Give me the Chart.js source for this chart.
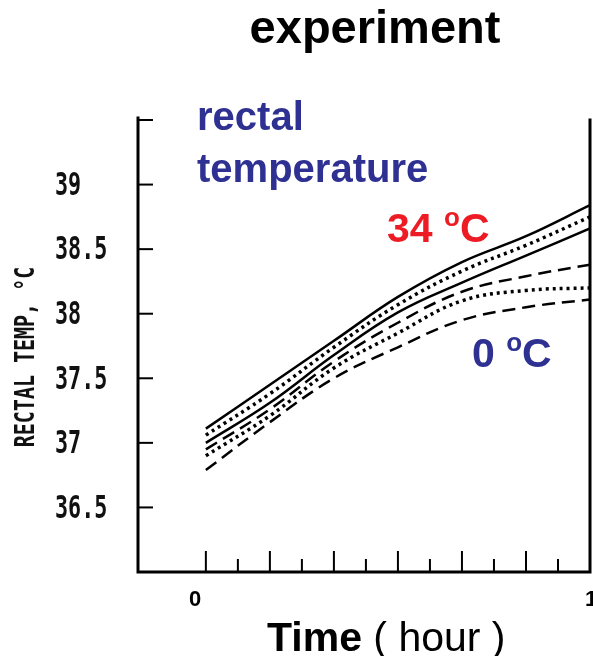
<!DOCTYPE html>
<html lang="en">
<head>
  <meta charset="UTF-8" />
  <title>Rectal temperature experiment</title>
  <script src="https://cdn.jsdelivr.net/npm/chart.js"></script>
  <style>
    body { margin: 0; background: #fff; overflow: hidden; }
    #wrap { position: relative; width: 593px; height: 656px; overflow: hidden; }
    .lbl { position: absolute; font-family: "Liberation Sans", Arial, sans-serif; line-height: 1; white-space: nowrap; }
    .b { font-weight: bold; }
    .blue { color: #2e3192; }
    .red { color: #ed1c24; }
    .deg { position: relative; top: -16px; font-size: 26px; }
  </style>
</head>
<body>
  <div id="wrap">
    <canvas id="tempChart" width="593" height="656"></canvas>

    <div class="lbl b" style="left:225px; top:3px; width:300px; text-align:center; font-size:47px;">experiment</div>
    <div class="lbl b blue" style="left:197px; top:96px; font-size:40px;">rectal</div>
    <div class="lbl b blue" style="left:197px; top:148px; font-size:40px;">temperature</div>
    <div class="lbl b red" style="left:387px; top:208px; font-size:41px;">34 <span class="deg">o</span>C</div>
    <div class="lbl b blue" style="left:472px; top:333px; font-size:41px;">0 <span class="deg">o</span>C</div>

    <div class="lbl b" style="left:174px; top:588px; width:42px; text-align:center; font-size:22px;">0</div>
    <div class="lbl b" style="left:585px; top:588px; font-size:22px;">1</div>
    <div class="lbl" style="left:267px; top:617px; font-size:41px;"><span class="b">Time</span> ( hour )</div>
  </div>

  <script>
    // time in minutes after start (0 .. 60 = 1 hour)
    const timeMin = [0, 10, 20, 30, 40, 50, 60];

    // 34 oC group (solid lines + dotted mean)
    const hotUpper = [37.11, 37.45, 37.79, 38.13, 38.40, 38.60, 38.84];
    const hotMean  = [37.06, 37.38, 37.74, 38.07, 38.33, 38.53, 38.75];
    const hotLower = [37.00, 37.31, 37.68, 38.01, 38.24, 38.45, 38.66];

    // 0 oC group (dashed lines + dotted mean)
    const coldUpper = [36.95, 37.26, 37.63, 37.93, 38.17, 38.29, 38.38];
    const coldMean  = [36.90, 37.21, 37.58, 37.85, 38.10, 38.18, 38.20];
    const coldLower = [36.79, 37.16, 37.50, 37.74, 37.95, 38.05, 38.11];

    const yTickValues = [36, 36.5, 37, 37.5, 38, 38.5, 39, 39.5];
    const yTickLabels = ['', '36.5', '37', '37.5', '38', '38.5', '39', ''];
    const xTickMinutes = [0, 5, 10, 15, 20, 25, 30, 35, 40, 45, 50, 55];

    function toPoints(arr) {
      return timeMin.map((t, i) => ({ x: t, y: arr[i] }));
    }

    // hand-drawn style axes: inward ticks, condensed plotter labels
    const axesPlugin = {
      id: 'oldAxes',
      afterDraw(chart) {
        const ctx = chart.ctx;
        const { left, right, top, bottom } = chart.chartArea;
        const xs = chart.scales.x;
        const ys = chart.scales.y;

        ctx.save();
        ctx.strokeStyle = '#000';
        ctx.lineCap = 'square';

        // frame: left, bottom, right
        ctx.lineWidth = 3;
        ctx.beginPath();
        ctx.moveTo(left, top - 2);
        ctx.lineTo(left, bottom);
        ctx.lineTo(right, bottom);
        ctx.lineTo(right, top);
        ctx.stroke();

        // y ticks
        ctx.lineWidth = 2;
        yTickValues.forEach(v => {
          const py = ys.getPixelForValue(v);
          ctx.beginPath();
          ctx.moveTo(left, py);
          ctx.lineTo(left + 14, py);
          ctx.stroke();
        });

        // x ticks, tall every 10 min
        xTickMinutes.forEach(t => {
          const px = xs.getPixelForValue(t);
          const len = t % 10 === 0 ? 20 : 12;
          ctx.beginPath();
          ctx.moveTo(px, bottom);
          ctx.lineTo(px, bottom - len);
          ctx.stroke();
        });

        // y tick labels
        ctx.fillStyle = '#111';
        ctx.font = 'bold 32px "DejaVu Sans Mono"';
        ctx.textAlign = 'left';
        ctx.textBaseline = 'middle';
        yTickValues.forEach((v, i) => {
          if (!yTickLabels[i]) return;
          const py = ys.getPixelForValue(v);
          ctx.save();
          ctx.translate(55, py + 2);
          ctx.scale(0.68, 1);
          ctx.fillText(yTickLabels[i], 0, 0);
          ctx.restore();
        });

        // y axis title
        ctx.save();
        ctx.translate(27, (top + bottom) / 2 + 11);
        ctx.rotate(-Math.PI / 2);
        ctx.scale(0.74, 1);
        ctx.font = 'bold 27px "DejaVu Sans Mono"';
        ctx.textAlign = 'center';
        ctx.fillText('RECTAL TEMP, \u00B0C', 0, 0);
        ctx.restore();

        ctx.restore();
      }
    };

    const solid = { borderColor: '#000', borderWidth: 2.5, pointRadius: 0, fill: false, tension: 0.4 };
    const dashed = Object.assign({}, solid, { borderDash: [13, 7] });
    const dotted = Object.assign({}, solid, { borderWidth: 3.5, borderDash: [3, 4] });

    const ctx = document.getElementById('tempChart').getContext('2d');
    new Chart(ctx, {
      type: 'line',
      data: {
        datasets: [
          Object.assign({ label: '34 oC upper', data: toPoints(hotUpper) }, solid),
          Object.assign({ label: '34 oC mean', data: toPoints(hotMean) }, dotted),
          Object.assign({ label: '34 oC lower', data: toPoints(hotLower) }, solid),
          Object.assign({ label: '0 oC upper', data: toPoints(coldUpper) }, dashed),
          Object.assign({ label: '0 oC mean', data: toPoints(coldMean) }, dotted),
          Object.assign({ label: '0 oC lower', data: toPoints(coldLower) }, dashed)
        ]
      },
      options: {
        responsive: false,
        animation: false,
        layout: { padding: { left: 138, top: 120, right: 3, bottom: 84 } },
        plugins: {
          legend: { display: false },
          tooltip: { enabled: false }
        },
        scales: {
          x: { type: 'linear', min: -10.6, max: 60, display: false },
          y: { type: 'linear', min: 36, max: 39.5, display: false }
        }
      },
      plugins: [axesPlugin]
    });
  </script>
</body>
</html>
